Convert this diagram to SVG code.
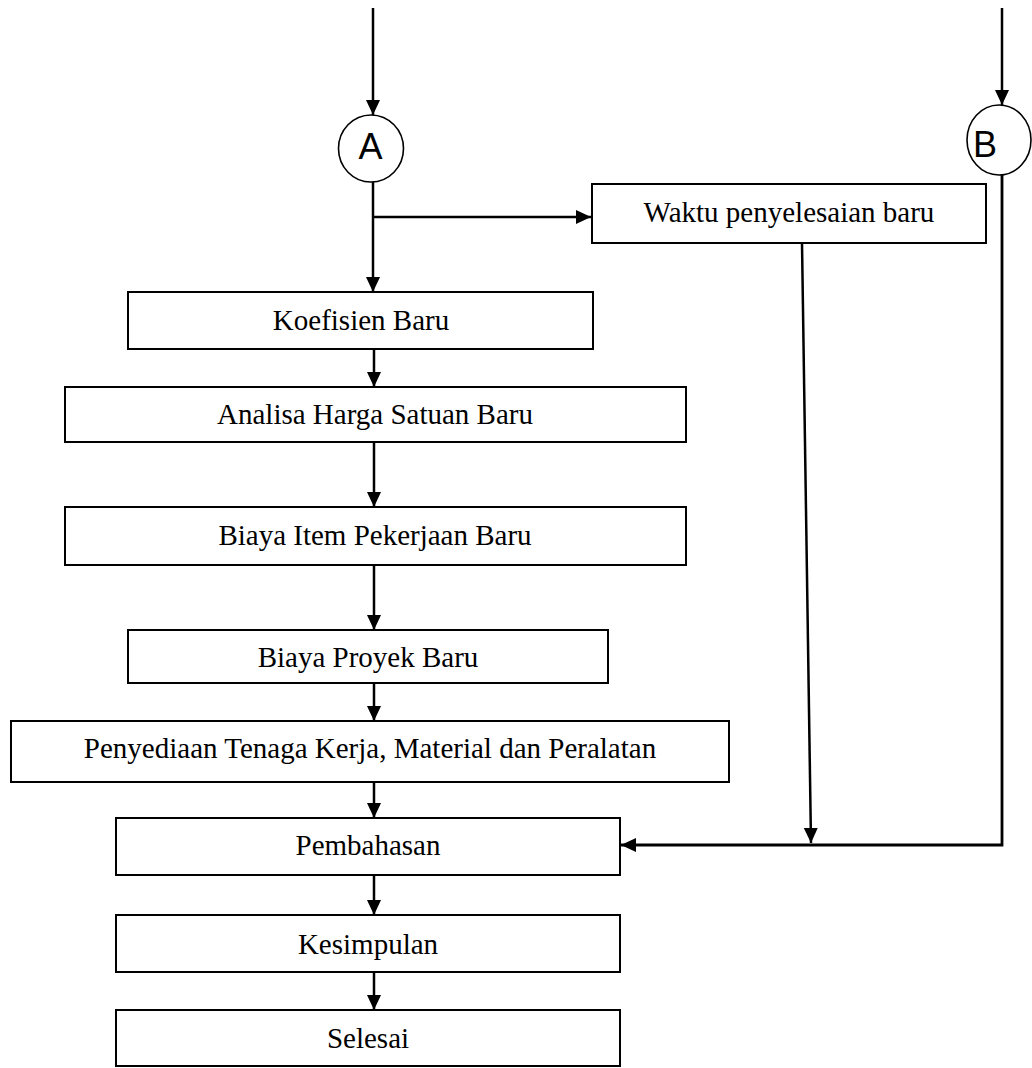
<svg xmlns="http://www.w3.org/2000/svg" width="1032" height="1068" viewBox="0 0 1032 1068">
<style>
.box{fill:#fff;stroke:#000;stroke-width:2}
.t{font-family:"Liberation Serif","Times New Roman",serif;font-size:29px;text-anchor:middle;fill:#000}
.c{fill:#fff;stroke:#000;stroke-width:1.6}
.ct{font-family:"Liberation Sans",Arial,sans-serif;font-size:36px;text-anchor:middle;fill:#000}
.ln{fill:none;stroke:#000;stroke-width:2.5}
</style>
<defs>
<marker id="ah" markerUnits="userSpaceOnUse" markerWidth="16" markerHeight="15" refX="15" refY="7" orient="auto" viewBox="0 0 16 14">
<path d="M0,0 L15,7 L0,14 z" fill="#000"/>
</marker>
</defs>
<g id="connectors">
<line class="ln" x1="373" y1="8" x2="373" y2="115" marker-end="url(#ah)"/>
<line class="ln" x1="1002" y1="8" x2="1002" y2="105" marker-end="url(#ah)"/>
<line class="ln" x1="373" y1="182" x2="373" y2="292" marker-end="url(#ah)"/>
<line class="ln" x1="373" y1="217" x2="591" y2="217" marker-end="url(#ah)"/>
<line class="ln" x1="374" y1="349" x2="374" y2="387" marker-end="url(#ah)"/>
<line class="ln" x1="374" y1="442" x2="374" y2="507" marker-end="url(#ah)"/>
<line class="ln" x1="374" y1="565" x2="374" y2="630" marker-end="url(#ah)"/>
<line class="ln" x1="374" y1="683" x2="374" y2="721" marker-end="url(#ah)"/>
<line class="ln" x1="374" y1="782" x2="374" y2="818" marker-end="url(#ah)"/>
<line class="ln" x1="374" y1="875" x2="374" y2="915" marker-end="url(#ah)"/>
<line class="ln" x1="374" y1="972" x2="374" y2="1010" marker-end="url(#ah)"/>
<line class="ln" x1="802" y1="243" x2="811" y2="843" marker-end="url(#ah)"/>
<polyline class="ln" style="stroke-width:2.8" points="1002,175 1002,845 621,845" marker-end="url(#ah)"/>
</g>
<g id="nodeA"><ellipse class="c" cx="371" cy="148.5" rx="32.5" ry="33.5"/><text class="ct" x="370.5" y="159">A</text></g>
<g id="nodeB"><ellipse class="c" cx="999" cy="140" rx="32" ry="35"/><text class="ct" x="985" y="157">B</text></g>
<g id="waktu"><rect class="box" x="592" y="184" width="394" height="59"/><text class="t" x="789" y="222">Waktu penyelesaian baru</text></g>
<g id="koefisien"><rect class="box" x="128" y="292" width="465" height="57"/><text class="t" x="361" y="330">Koefisien Baru</text></g>
<g id="analisa"><rect class="box" x="65" y="387" width="621" height="55"/><text class="t" x="375" y="424">Analisa Harga Satuan Baru</text></g>
<g id="biayaItem"><rect class="box" x="65" y="507" width="621" height="58"/><text class="t" x="375" y="545">Biaya Item Pekerjaan Baru</text></g>
<g id="biayaProyek"><rect class="box" x="128" y="630" width="480" height="53"/><text class="t" x="368" y="667">Biaya Proyek Baru</text></g>
<g id="penyediaan"><rect class="box" x="11" y="721" width="718" height="61"/><text class="t" x="370" y="758">Penyediaan Tenaga Kerja, Material dan Peralatan</text></g>
<g id="pembahasan"><rect class="box" x="116" y="818" width="504" height="57"/><text class="t" x="368" y="855">Pembahasan</text></g>
<g id="kesimpulan"><rect class="box" x="116" y="915" width="504" height="57"/><text class="t" x="368" y="954">Kesimpulan</text></g>
<g id="selesai"><rect class="box" x="116" y="1010" width="504" height="56"/><text class="t" x="368" y="1048">Selesai</text></g>
</svg>
